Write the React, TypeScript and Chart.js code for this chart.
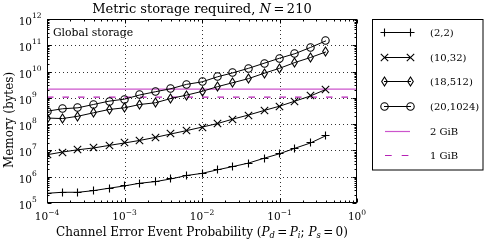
import React, { useEffect, useRef } from 'react';
import { Chart, registerables } from 'chart.js';

Chart.register(...registerables);

// ---- data ----
const channelErrorProb = [1e-4, 1.58e-4, 2.51e-4, 3.98e-4, 6.31e-4, 1e-3, 1.58e-3, 2.51e-3, 3.98e-3, 6.31e-3, 1e-2, 1.58e-2, 2.51e-2, 3.98e-2, 6.31e-2, 0.1, 0.158, 0.251, 0.398];
const mem_2_2 = [2.34e5, 2.56e5, 2.56e5, 2.95e5, 3.65e5, 4.47e5, 5.66e5, 6.52e5, 8.26e5, 1.11e6, 1.34e6, 1.83e6, 2.44e6, 3.3e6, 5.03e6, 7.48e6, 1.21e7, 1.92e7, 3.65e7];
const mem_10_32 = [6.84e6, 8.69e6, 1.06e7, 1.24e7, 1.55e7, 1.92e7, 2.41e7, 3.14e7, 4.24e7, 5.67e7, 7.71e7, 1.05e8, 1.56e8, 2.22e8, 3.3e8, 4.82e8, 7.49e8, 1.18e9, 2.1e9];
const mem_18_512 = [1.71e8, 1.63e8, 2.0e8, 2.7e8, 3.61e8, 4.19e8, 5.6e8, 6.5e8, 9.5e8, 1.27e9, 1.76e9, 2.66e9, 3.79e9, 5.39e9, 8.59e9, 1.33e10, 2.21e10, 3.43e10, 5.61e10];
const mem_20_1024 = [3.1e8, 3.84e8, 4.19e8, 5.6e8, 7.49e8, 8.93e8, 1.29e9, 1.71e9, 2.23e9, 3.26e9, 4.06e9, 6.31e9, 8.98e9, 1.33e10, 2.07e10, 3.22e10, 4.79e10, 8.27e10, 1.48e11];
const seriesLabels = ['(2,2)', '(10,32)', '(18,512)', '(20,1024)'];
const limitLabels = ['2 GiB', '1 GiB'];
const limitValues = [2147483648, 1073741824];
const xRange = [1e-4, 1];
const yRange = [1e5, 1e12];
const xTickExps = [-4, -3, -2, -1, 0];
const yTickExps = [5, 6, 7, 8, 9, 10, 11, 12];

const FONT = '"DejaVu Serif", "Liberation Serif", serif';
const COLOR_2GIB = '#cc55cc';
const COLOR_1GIB = '#b522b5';
const DASH_1GIB = [6.5, 9];

type Run = { t: string; it?: boolean; sub?: boolean; sup?: boolean };

function setFont(ctx: CanvasRenderingContext2D, size: number, italic = false) {
  ctx.font = `${italic ? 'italic ' : ''}${size}px ${FONT}`;
}
function measureRuns(ctx: CanvasRenderingContext2D, runs: Run[], size: number) {
  let w = 0;
  for (const r of runs) {
    setFont(ctx, r.sub || r.sup ? size * 0.7 : size, r.it);
    w += ctx.measureText(r.t).width;
  }
  return w;
}
function drawRuns(ctx: CanvasRenderingContext2D, runs: Run[], x: number, y: number, size: number, align: string) {
  const w = measureRuns(ctx, runs, size);
  let cx = align === 'center' ? x - w / 2 : align === 'right' ? x - w : x;
  ctx.textAlign = 'left';
  ctx.textBaseline = 'alphabetic';
  for (const r of runs) {
    setFont(ctx, r.sub || r.sup ? size * 0.7 : size, r.it);
    const dy = r.sub ? size * 0.22 : r.sup ? -size * 0.4 : 0;
    ctx.fillText(r.t, cx, y + dy);
    cx += ctx.measureText(r.t).width;
  }
}

function makeMarker(kind: string): HTMLCanvasElement {
  const c = document.createElement('canvas');
  c.width = 13;
  c.height = 13;
  const g = c.getContext('2d')!;
  g.strokeStyle = '#000';
  g.lineWidth = 1.1;
  const m = 6.5;
  g.beginPath();
  if (kind === 'plus') {
    g.moveTo(m - 4, m); g.lineTo(m + 4, m);
    g.moveTo(m, m - 4); g.lineTo(m, m + 4);
  } else if (kind === 'cross') {
    g.moveTo(m - 3.7, m - 3.7); g.lineTo(m + 3.7, m + 3.7);
    g.moveTo(m - 3.7, m + 3.7); g.lineTo(m + 3.7, m - 3.7);
  } else if (kind === 'diamond') {
    g.moveTo(m, m - 4.5); g.lineTo(m + 2.8, m); g.lineTo(m, m + 4.5); g.lineTo(m - 2.8, m); g.closePath();
  } else {
    g.arc(m, m, 3.7, 0, Math.PI * 2);
  }
  g.stroke();
  return c;
}

function makeDecor(markers: HTMLCanvasElement[]) {
  return {
    id: 'decor',
    beforeDatasetsDraw(chart: any) {
      const ctx: CanvasRenderingContext2D = chart.ctx;
      const { left, right, top, bottom } = chart.chartArea;
      const xs = chart.scales.x;
      const ys = chart.scales.y;
      ctx.save();
      ctx.strokeStyle = 'rgba(0,0,0,0.8)';
      ctx.lineWidth = 1;
      ctx.setLineDash([1, 3]);
      for (const e of xTickExps) {
        const v = Math.pow(10, e);
        if (v <= xRange[0] || v >= xRange[1]) continue;
        const px = Math.round(xs.getPixelForValue(v)) + 0.5;
        ctx.beginPath(); ctx.moveTo(px, bottom); ctx.lineTo(px, top); ctx.stroke();
      }
      for (const e of yTickExps) {
        const v = Math.pow(10, e);
        if (v <= yRange[0] || v >= yRange[1]) continue;
        const py = Math.round(ys.getPixelForValue(v)) + 0.5;
        ctx.beginPath(); ctx.moveTo(left, py); ctx.lineTo(right, py); ctx.stroke();
      }
      ctx.restore();
      ctx.imageSmoothingEnabled = false;
    },
    afterDatasetsDraw(chart: any) {
      chart.ctx.imageSmoothingEnabled = true;
    },
    afterDraw(chart: any) {
      const ctx: CanvasRenderingContext2D = chart.ctx;
      const { left, right, top, bottom } = chart.chartArea;
      const xs = chart.scales.x;
      const ys = chart.scales.y;
      const L = Math.round(left) + 0.5, R = Math.round(right) - 0.5;
      const T = Math.round(top) + 0.5, B = Math.round(bottom) - 0.5;
      ctx.save();
      ctx.setLineDash([]);
      ctx.strokeStyle = '#000';
      ctx.fillStyle = '#000';
      ctx.lineWidth = 1;
      // ticks
      ctx.beginPath();
      for (let e = xTickExps[0]; e <= xTickExps[xTickExps.length - 1]; e++) {
        for (let m = 1; m <= 9; m++) {
          const v = m * Math.pow(10, e);
          if (v < xRange[0] || v > xRange[1]) continue;
          const len = m === 1 ? 4 : 2;
          const px = Math.round(xs.getPixelForValue(v)) + 0.5;
          ctx.moveTo(px, B); ctx.lineTo(px, B - len);
          ctx.moveTo(px, T); ctx.lineTo(px, T + len);
        }
      }
      for (let e = yTickExps[0]; e <= yTickExps[yTickExps.length - 1]; e++) {
        for (let m = 1; m <= 9; m++) {
          const v = m * Math.pow(10, e);
          if (v < yRange[0] || v > yRange[1]) continue;
          const len = m === 1 ? 4 : 2;
          const py = Math.round(ys.getPixelForValue(v)) + 0.5;
          ctx.moveTo(L, py); ctx.lineTo(L + len, py);
          ctx.moveTo(R, py); ctx.lineTo(R - len, py);
        }
      }
      ctx.stroke();
      ctx.strokeRect(L, T, R - L, B - T);

      // tick labels
      const big = 10.5, small = 7.5;
      for (const e of yTickExps) {
        const py = ys.getPixelForValue(Math.pow(10, e));
        setFont(ctx, big);
        ctx.textAlign = 'right'; ctx.textBaseline = 'alphabetic';
        ctx.fillText('10', 32, py + 6);
        setFont(ctx, small);
        ctx.textAlign = 'left';
        ctx.fillText(String(e), 32, py - 1);
      }
      for (const e of xTickExps) {
        const px = xs.getPixelForValue(Math.pow(10, e));
        const es = e < 0 ? '\u2212' + Math.abs(e) : String(e);
        setFont(ctx, big);
        const w1 = ctx.measureText('10').width;
        setFont(ctx, small);
        const w2 = ctx.measureText(es).width;
        const sx = px - (w1 + w2) / 2;
        setFont(ctx, big);
        ctx.textAlign = 'left'; ctx.textBaseline = 'alphabetic';
        ctx.fillText('10', sx, 220);
        setFont(ctx, small);
        ctx.fillText(es, sx + w1, 215);
      }

      // title
      drawRuns(ctx, [
        { t: 'Metric storage required, ' },
        { t: 'N', it: true },
        { t: '\u2009=\u2009210' },
      ], (left + right) / 2, 13, 13, 'center');

      // x title
      drawRuns(ctx, [
        { t: 'Channel Error Event Probability (' },
        { t: 'P', it: true }, { t: 'd', it: true, sub: true },
        { t: '\u2009=\u2009' },
        { t: 'P', it: true }, { t: 'i', it: true, sub: true },
        { t: '; ' },
        { t: 'P', it: true }, { t: 's', it: true, sub: true },
        { t: '\u2009=\u20090)' },
      ], (left + right) / 2, 235.5, 12, 'center');

      // y title
      ctx.save();
      ctx.translate(13, 120);
      ctx.rotate(-Math.PI / 2);
      setFont(ctx, 12);
      ctx.textAlign = 'center'; ctx.textBaseline = 'alphabetic';
      ctx.fillText('Memory (bytes)', 0, 0);
      ctx.restore();

      // annotation
      setFont(ctx, 10.8);
      ctx.textAlign = 'left'; ctx.textBaseline = 'alphabetic';
      ctx.fillText('Global storage', 53, 35.5);

      // legend
      ctx.fillStyle = '#fff';
      ctx.fillRect(372.5, 19.5, 110.5, 150.5);
      ctx.strokeStyle = '#000';
      ctx.strokeRect(372.5, 19.5, 110.5, 150.5);
      const rowY = [32.5, 57.5, 81.5, 106.5, 131.5, 155.5];
      for (let i = 0; i < 4; i++) {
        const y = rowY[i];
        ctx.strokeStyle = '#000';
        ctx.beginPath(); ctx.moveTo(384, y); ctx.lineTo(411, y); ctx.stroke();
        const mk = markers[i];
        ctx.drawImage(mk, 384 - mk.width / 2 + 0.5, y - mk.height / 2);
        ctx.drawImage(mk, 410 - mk.width / 2 + 0.5, y - mk.height / 2);
      }
      ctx.lineWidth = 1.2;
      ctx.strokeStyle = COLOR_2GIB;
      ctx.beginPath(); ctx.moveTo(385, rowY[4]); ctx.lineTo(410, rowY[4]); ctx.stroke();
      ctx.strokeStyle = COLOR_1GIB;
      ctx.setLineDash([6.7, 10]);
      ctx.beginPath(); ctx.moveTo(385, rowY[5]); ctx.lineTo(410, rowY[5]); ctx.stroke();
      ctx.setLineDash([]);
      ctx.fillStyle = '#000';
      setFont(ctx, 10);
      ctx.textAlign = 'left'; ctx.textBaseline = 'middle';
      const labels = [...seriesLabels, ...limitLabels];
      labels.forEach((t, i) => ctx.fillText(t, 430, rowY[i] + 0.5));
      ctx.restore();
    },
  };
}

export default function App() {
  const ref = useRef<HTMLCanvasElement>(null);
  useEffect(() => {
    const canvas = ref.current!;
    const markers = ['plus', 'cross', 'diamond', 'circle'].map(makeMarker);
    const series = [mem_2_2, mem_10_32, mem_18_512, mem_20_1024];
    const datasets: any[] = series.map((s, i) => ({
      label: seriesLabels[i],
      data: channelErrorProb.map((x, j) => ({ x, y: s[j] })),
      borderColor: '#000',
      borderWidth: 1,
      pointStyle: markers[i],
      pointRadius: 4,
      fill: false,
      tension: 0,
      clip: 0,
    }));
    limitValues.forEach((v, i) => {
      datasets.push({
        label: limitLabels[i],
        data: [{ x: xRange[0], y: v }, { x: xRange[1], y: v }],
        borderColor: i === 0 ? COLOR_2GIB : COLOR_1GIB,
        borderWidth: 1.2,
        borderDash: i === 0 ? [] : DASH_1GIB,
        pointRadius: 0,
        fill: false,
        clip: 0,
      });
    });
    const chart: any = new Chart(canvas, {
      type: 'line',
      data: { datasets },
      options: {
        animation: false,
        responsive: false,
        maintainAspectRatio: false,
        events: [],
        layout: { padding: { left: 47, top: 19, right: 128, bottom: 38 } },
        plugins: {
          legend: { display: false },
          title: { display: false },
          tooltip: { enabled: false },
        },
        scales: {
          x: { type: 'logarithmic', min: xRange[0], max: xRange[1], display: false },
          y: { type: 'logarithmic', min: yRange[0], max: yRange[1], display: false },
        },
      },
      plugins: [makeDecor(markers)],
    } as any);
    return () => chart.destroy();
  }, []);
  return (
    <div style={{ position: 'fixed', left: 0, top: 0, width: 485, height: 241, background: '#fff' }}>
      <canvas ref={ref} width={485} height={241} style={{ display: 'block', width: 485, height: 241 }} />
    </div>
  );
}
